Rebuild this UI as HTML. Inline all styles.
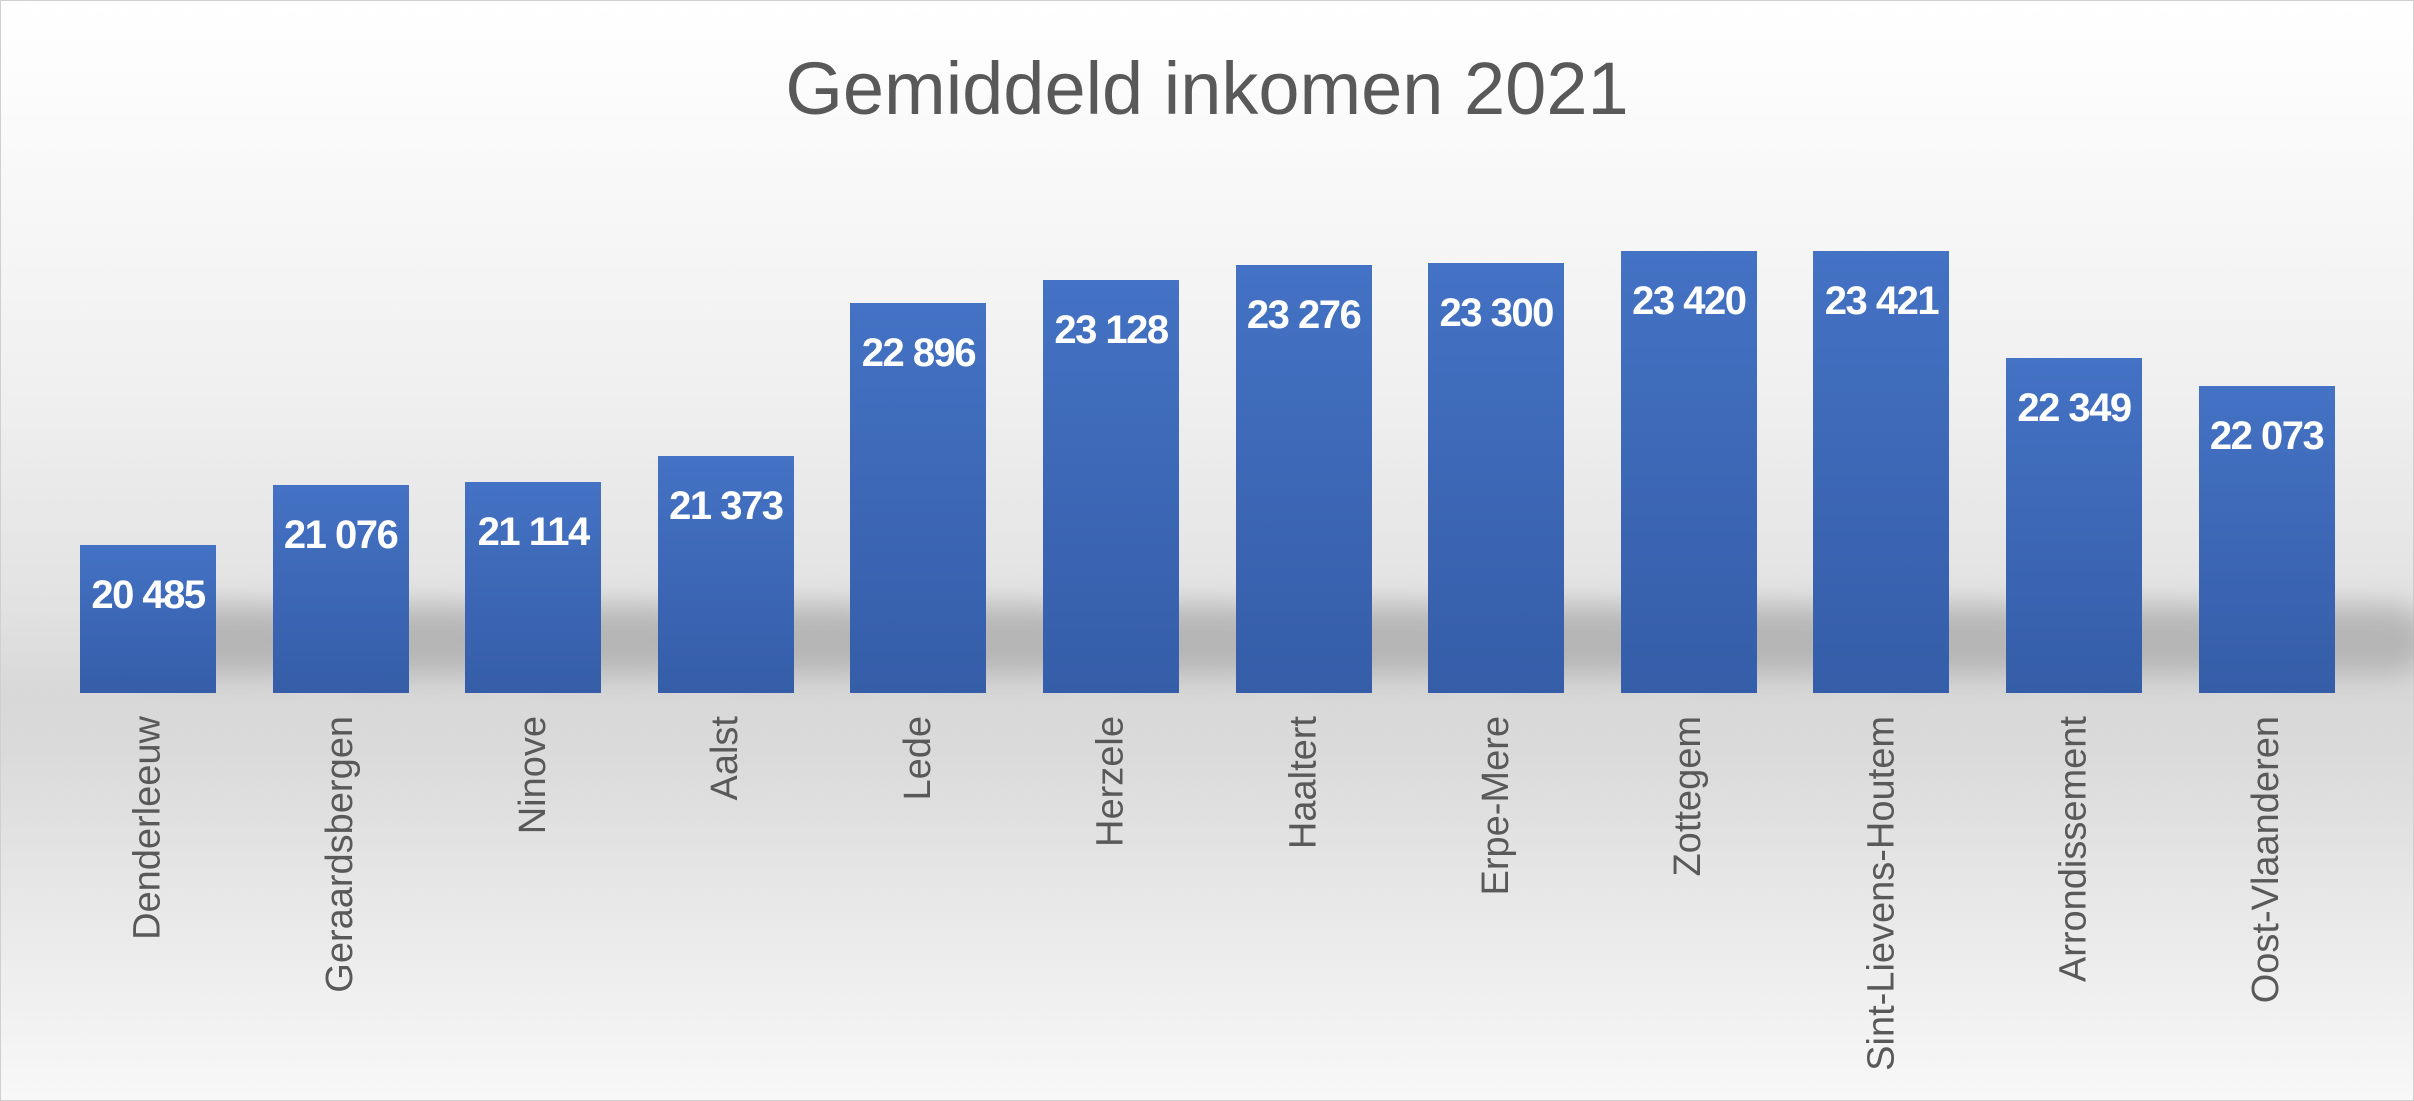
<!DOCTYPE html>
<html><head><meta charset="utf-8"><style>
html,body{margin:0;padding:0}
body{width:2414px;height:1101px;position:relative;overflow:hidden;font-family:"Liberation Sans",sans-serif;
background:linear-gradient(to bottom,#ffffff 0%,#fafafa 12%,#f0f0f0 35%,#e2e2e2 55%,#d8d8d8 63%,#dadada 68%,#e8e8e8 82%,#f8f8f8 100%);}
.frame{position:absolute;left:0;top:0;width:2412px;height:1099px;border:1px solid #d0d0d0}
.title{position:absolute;left:0;width:2414px;top:46px;text-align:center;font-size:74px;color:#595959}
.sh{position:absolute;height:70px;background:#a8a8a8;filter:blur(14px);border-radius:35px;opacity:.75}
.bar{position:absolute;width:136px;background:linear-gradient(to bottom,#4472c4,#355da8)}
.v{position:absolute;width:136px;text-align:center;color:#fff;font-weight:bold;font-size:40px;letter-spacing:-1.5px}
.c{position:absolute;top:716px;width:0;height:0}
.c span{position:absolute;right:0;top:0;transform-origin:100% 0;transform:rotate(-90deg) translateY(-50%);white-space:nowrap;font-size:38px;color:#595959}
</style></head><body>
<div class="frame"></div>
<div class="title">Gemiddeld inkomen 2021</div>
<div id="c"></div>
<script>
var d=[["Denderleeuw",20485],["Geraardsbergen",21076],["Ninove",21114],["Aalst",21373],["Lede",22896],["Herzele",23128],["Haaltert",23276],["Erpe-Mere",23300],["Zottegem",23420],["Sint-Lievens-Houtem",23421],["Arrondissement",22349],["Oost-Vlaanderen",22073]];
var h="";
d.forEach(function(e,i){
 var x=80+i*192.6;
 h+='<div class="sh" style="left:'+(x+60)+'px;top:605px;width:170px"></div>';
});
d.forEach(function(e,i){
 var x=80+i*192.6, t=693-(e[1]-19000)*0.1;
 var s=String(e[1]); s=s.slice(0,2)+" "+s.slice(2);
 h+='<div class="bar" style="left:'+x+'px;top:'+t+'px;height:'+(693-t)+'px"></div>';
 h+='<div class="v" style="left:'+x+'px;top:'+(t+28)+'px">'+s+'</div>';
 h+='<div class="c" style="left:'+(x+68)+'px"><span>'+e[0]+'</span></div>';
});
document.getElementById("c").innerHTML=h;
</script>
</body></html>
